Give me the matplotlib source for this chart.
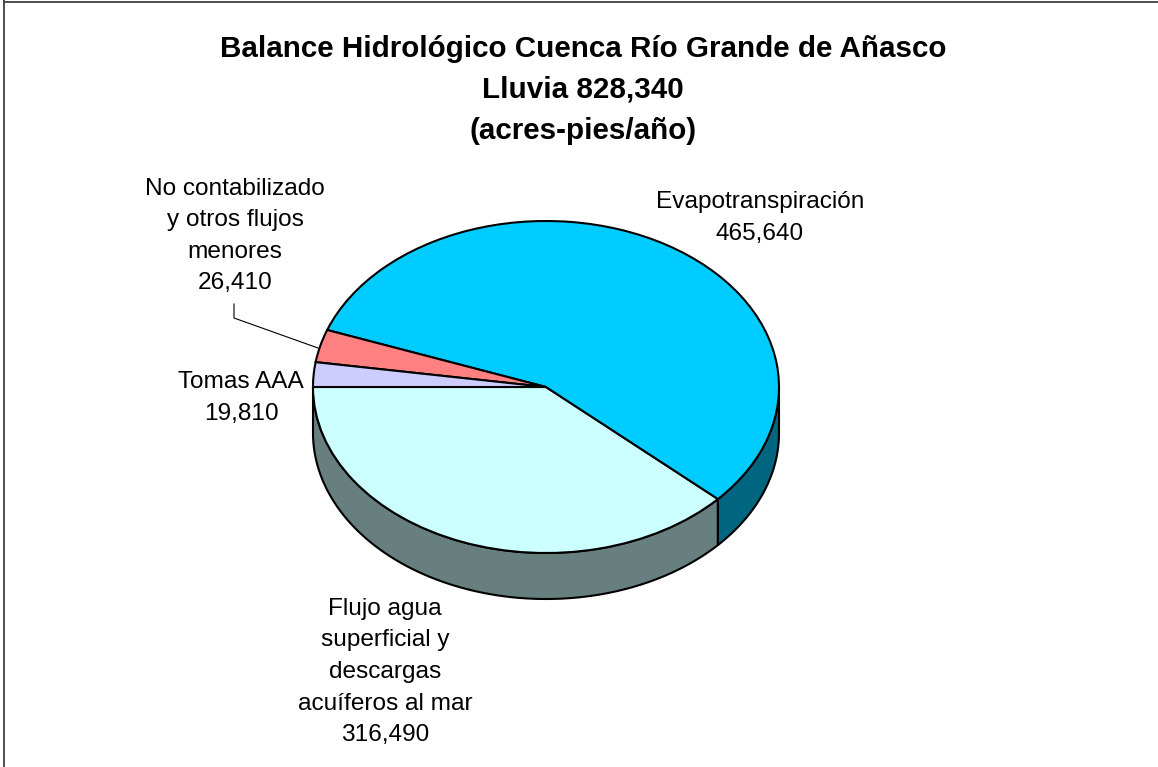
#!/usr/bin/env python3
"""Balance hidrologico pie, drawn as a tilted 3D pie"""

import numpy as np
import matplotlib
matplotlib.use('Agg')
import matplotlib.pyplot as plt

title = 'Balance Hidrológico Cuenca Río Grande de Añasco\nLluvia 828,340\n(acres-pies/año)'
labels = ['Flujo agua\nsuperficial y\ndescargas\nacuíferos al mar\n316,490',
          'Evapotranspiración\n465,640',
          'No contabilizado\ny otros flujos\nmenores\n26,410',
          'Tomas AAA\n19,810']
values = [316490, 465640, 26410, 19810]
top_colors = ['#ccffff', '#00ccff', '#ff8080', '#ccccff']
wall_colors = ['#677f7f', '#006680', '#804040', '#666680']

W, H = 1158, 767
CX, CY = 546, 387
RX, RY = 233, 166
DEPTH = 46 / RY

plt.rcParams['font.family'] = ['Liberation Sans', 'DejaVu Sans']


def px(x, y):
    return x / W, 1 - y / H


fig = plt.figure(figsize=(W / 100, H / 100), dpi=100)
ax = fig.add_axes([0, 0, 1, 1])

start = 180
ax.pie(values, colors=top_colors, startangle=start, counterclock=True,
       wedgeprops=dict(edgecolor='black', linewidth=1.5, zorder=3))
ax.set_aspect('auto')
ax.set_xlim((0 - CX) / RX, (W - CX) / RX)
ax.set_ylim((CY - H) / RY, CY / RY)

# side wall, only the front half of the disc shows
edges = start + np.cumsum([0] + values) / sum(values) * 360
for i in range(len(values)):
    a0, a1 = max(edges[i], 180), min(edges[i + 1], 360)
    if a0 >= a1:
        continue
    t = np.radians(np.linspace(a0, a1, 120))
    xs = np.r_[np.cos(t), np.cos(t[::-1])]
    ys = np.r_[np.sin(t), np.sin(t[::-1]) - DEPTH]
    ax.fill(xs, ys, facecolor=wall_colors[i], edgecolor='black', linewidth=1.5,
            zorder=1, joinstyle='round')

# frame, open at the right and bottom like the source
ax.plot([4 / W, 4 / W], [0, 1], transform=ax.transAxes, color='#404040', lw=1.3,
        clip_on=False)
ax.plot([4 / W, 1], [1 - 1.5 / H, 1 - 1.5 / H], transform=ax.transAxes,
        color='#404040', lw=1.3, clip_on=False)

x, y = px(583, 90)
fig.text(x, y, title, ha='center', va='center', fontsize=21.3, fontweight='bold',
         linespacing=1.6)

label_pos = [(385, 672), (760, 218), (235, 236), (241, 398)]
for text, (lx, ly) in zip(labels, label_pos):
    x, y = px(lx, ly)
    fig.text(x, y, text, ha='center', va='center', fontsize=17.6, linespacing=1.56)

# leader line from the small slice label
ax.plot(np.array([234, 234, 318]) / W, 1 - np.array([304, 318, 348]) / H,
        transform=ax.transAxes, color='black', lw=0.8, clip_on=False)

fig.savefig('out.png', dpi=100)
